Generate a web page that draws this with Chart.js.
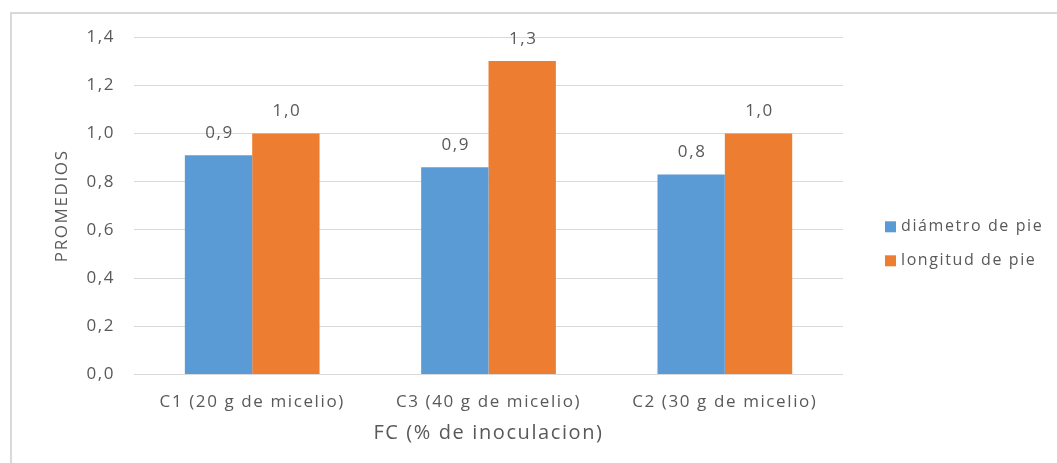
<!DOCTYPE html>
<html>
<head>
<meta charset="utf-8">
<script src="https://cdn.jsdelivr.net/npm/chart.js@4"></script>
<style>
  html, body { margin: 0; padding: 0; background: #fff; }
  #wrap { position: relative; width: 1057px; height: 463px; overflow: hidden; }
  #frame { position: absolute; left: 10px; top: 12px; width: 1100px; height: 520px;
           border: 2px solid #d9d9d9; box-sizing: border-box; }
  #c { position: absolute; left: 0; top: 0; }
</style>
</head>
<body>
<div id="wrap">
  <div id="frame"></div>
  <canvas id="c" width="1057" height="463"></canvas>
</div>
<script>
const categories = ['C1 (20 g de micelio)', 'C3 (40 g de micelio)', 'C2 (30 g de micelio)'];
const diametroPie = [0.91, 0.86, 0.83];
const longitudPie = [1.0, 1.3, 1.0];
const seriesNames = ['diámetro de pie', 'longitud de pie'];
const yTicks = [0, 0.2, 0.4, 0.6, 0.8, 1.0, 1.2, 1.4];

const FONT = 'Open Sans, Liberation Sans, sans-serif';
const TEXT = '#595959';
const SPACING = '1.6px';
const fmt = v => v.toFixed(1).replace('.', ',');

// Slightly wider letter spacing for all chart text
const spacing = {
  id: 'spacing',
  beforeLayout(chart) { chart.ctx.letterSpacing = SPACING; },
  beforeDraw(chart) { chart.ctx.letterSpacing = SPACING; }
};

// Values written above each bar
const barLabels = {
  id: 'barLabels',
  afterDatasetsDraw(chart) {
    const ctx = chart.ctx;
    ctx.save();
    ctx.font = '17px ' + FONT;
    ctx.fillStyle = TEXT;
    ctx.textAlign = 'center';
    ctx.textBaseline = 'middle';
    chart.data.datasets.forEach((ds, i) => {
      chart.getDatasetMeta(i).data.forEach((bar, j) => {
        ctx.fillText(fmt(ds.data[j]), bar.x + 1, bar.y - 22);
      });
    });
    ctx.restore();
  }
};

// Legend on the right, one row per series
const sideLegend = {
  id: 'sideLegend',
  afterDraw(chart) {
    const ctx = chart.ctx;
    const x = chart.chartArea.right + 42;
    const yc = (chart.chartArea.top + chart.chartArea.bottom) / 2 + 38;
    ctx.save();
    ctx.font = '16px ' + FONT;
    ctx.textAlign = 'left';
    ctx.textBaseline = 'middle';
    chart.data.datasets.forEach((ds, i) => {
      const y = yc + (i - 0.5) * 34;
      ctx.fillStyle = ds.backgroundColor;
      ctx.fillRect(x, y - 5.5, 11, 11);
      ctx.fillStyle = TEXT;
      ctx.fillText(ds.label, x + 16, y);
    });
    ctx.restore();
  }
};

new Chart(document.getElementById('c'), {
  type: 'bar',
  data: {
    labels: categories,
    datasets: [
      { label: seriesNames[0], data: diametroPie, backgroundColor: '#5B9BD5' },
      { label: seriesNames[1], data: longitudPie, backgroundColor: '#ED7D31' }
    ]
  },
  options: {
    responsive: false,
    animation: false,
    layout: { padding: { left: 48, right: 214, top: 37, bottom: 18 } },
    datasets: { bar: { categoryPercentage: 0.57, barPercentage: 1.0 } },
    plugins: {
      legend: { display: false },
      tooltip: { enabled: false }
    },
    scales: {
      x: {
        grid: { display: false, drawTicks: false },
        border: { display: false },
        ticks: { color: TEXT, font: { family: FONT, size: 17 }, padding: 17 },
        title: { display: true, text: 'FC (% de inoculacion)', color: TEXT,
                 font: { family: FONT, size: 20 }, padding: { top: -8, bottom: 0 } }
      },
      y: {
        min: 0, max: 1.4,
        afterBuildTicks: s => { s.ticks = yTicks.map(v => ({ value: v })); },
        grid: { color: '#d9d9d9', lineWidth: 1, drawTicks: false },
        border: { display: false },
        ticks: { color: TEXT, font: { family: FONT, size: 17 }, padding: 19,
                 callback: v => fmt(v) },
        title: { display: true, text: 'PROMEDIOS', color: TEXT,
                 font: { family: FONT, size: 17 }, padding: { top: 4, bottom: -5 } }
      }
    }
  },
  plugins: [spacing, barLabels, sideLegend]
});
</script>
</body>
</html>
